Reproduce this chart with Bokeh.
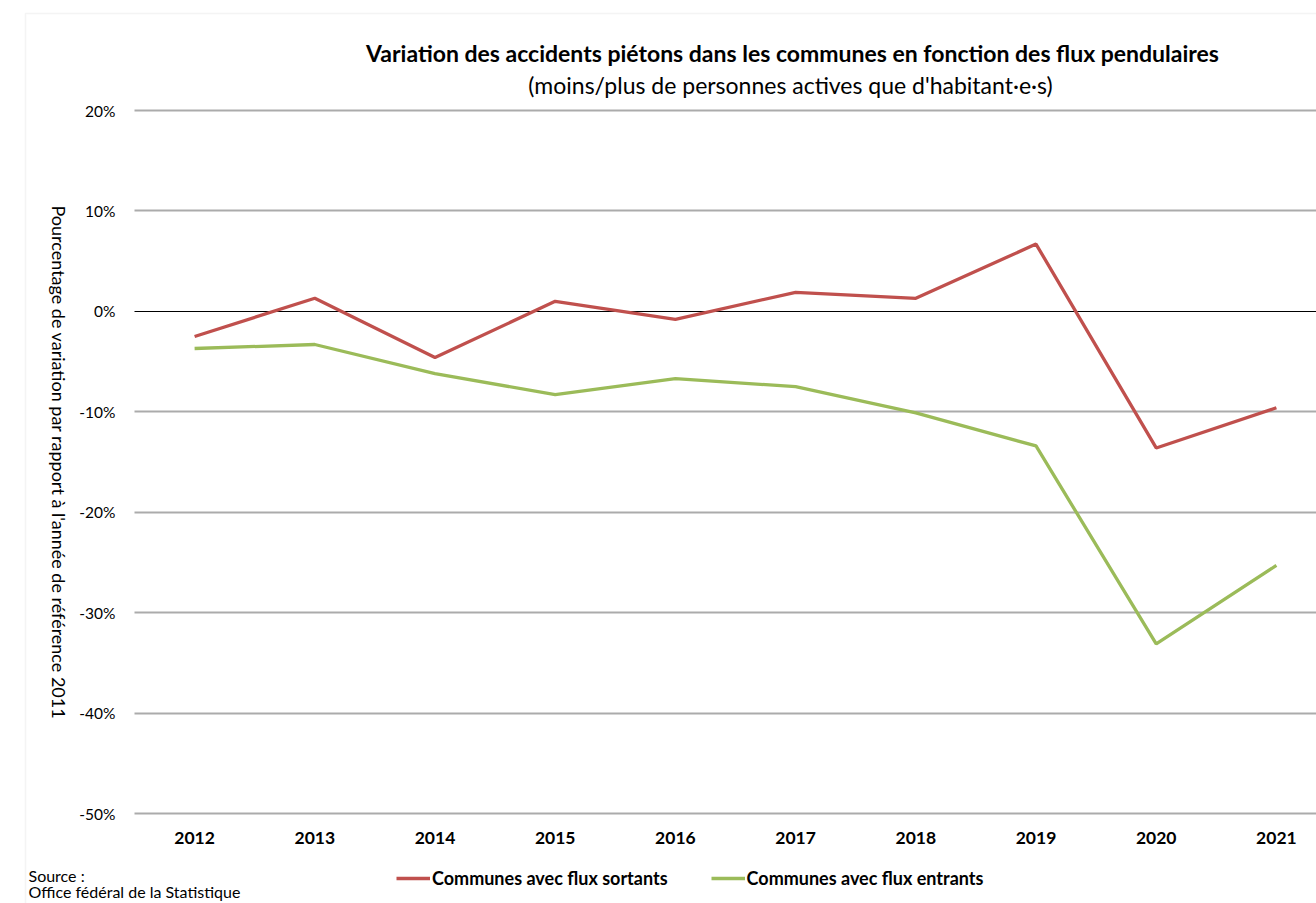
import math
from bokeh.plotting import figure
from bokeh.models import (Range1d, FixedTicker, NumeralTickFormatter, Label, Grid,
                          Legend, LegendItem, BoxAnnotation)
from bokeh.embed import file_html
from bokeh.resources import INLINE

years = ["2012", "2013", "2014", "2015", "2016", "2017", "2018", "2019", "2020", "2021"]
sortants = [-2.5, 1.3, -4.6, 1.0, -0.8, 1.9, 1.3, 6.7, -13.6, -9.6]
entrants = [-3.7, -3.3, -6.2, -8.3, -6.7, -7.5, -10.1, -13.4, -33.1, -25.3]
y_ticks = [-50, -40, -30, -20, -10, 0, 10, 20]

title_text = "Variation des accidents piétons dans les communes en fonction des flux pendulaires"
subtitle_text = "(moins/plus de personnes actives que d'habitant·e·s)"
ylabel_text = "Pourcentage de variation par rapport à l'année de référence 2011"
source_lines = ["Source :", "Office fédéral de la Statistique"]
name_sortants = "Communes avec flux sortants"
name_entrants = "Communes avec flux entrants"

FONT = "Lato"
RED = "#C0504D"
GREEN = "#9BBB59"

W, H = 1316, 903
# plot-area geometry (pixels): left edge, category step, top/bottom gridlines
PL, STEP, PT, PB = 134, 120.2, 110, 813
YMAX, YMIN = 0.2, -0.5
ppu = (PB - PT) / (YMAX - YMIN)

xs = [i + 0.5 for i in range(len(years))]
ys_s = [v / 100 for v in sortants]
ys_e = [v / 100 for v in entrants]

x_end = (W - PL) / STEP
p = figure(width=W, height=H, output_backend="svg", toolbar_location=None,
           x_range=Range1d(-PL / STEP, x_end),
           y_range=Range1d(YMAX - (H - PT) / ppu, YMAX + PT / ppu),
           min_border=0)
p.outline_line_color = None
p.background_fill_color = "white"
p.border_fill_color = "white"

# outer chart border
p.add_layout(BoxAnnotation(left=25, right=W + 20, top=H - 13, bottom=-20,
                           left_units="screen", right_units="screen",
                           top_units="screen", bottom_units="screen",
                           fill_alpha=0, line_color="#D9D9D9", line_width=1.5,
                           level="underlay"))

# axes fixed inside the frame
p.xaxis.fixed_location = YMIN
p.xaxis.ticker = FixedTicker(ticks=xs)
p.xaxis.major_label_overrides = {x: y for x, y in zip(xs, years)}
p.xaxis.axis_line_color = None
p.xaxis.major_tick_line_color = None
p.xaxis.major_tick_out = 0
p.xaxis.major_tick_in = 0
p.xaxis.minor_tick_line_color = None
p.xaxis.major_label_text_font = FONT
p.xaxis.major_label_text_font_style = "bold"
p.xaxis.major_label_text_font_size = "17.5px"
p.xaxis.major_label_text_color = "black"
p.xaxis.major_label_standoff = 18

p.yaxis.fixed_location = 0
p.yaxis.ticker = FixedTicker(ticks=[t / 100 for t in y_ticks])
p.yaxis.formatter = NumeralTickFormatter(format="0%")
p.yaxis.axis_line_color = None
p.yaxis.major_tick_line_color = None
p.yaxis.major_tick_out = 0
p.yaxis.major_tick_in = 0
p.yaxis.minor_tick_line_color = None
p.yaxis.major_label_text_font = FONT
p.yaxis.major_label_text_font_size = "15.5px"
p.yaxis.major_label_text_color = "black"
p.yaxis.major_label_standoff = 19

p.xgrid.grid_line_color = None
p.ygrid.ticker = FixedTicker(ticks=[t / 100 for t in y_ticks if t != 0])
p.ygrid.cross_bounds = (0, x_end)
p.ygrid.grid_line_color = "#ABABAB"
p.ygrid.grid_line_width = 2

zero = Grid(dimension=1, ticker=FixedTicker(ticks=[0]), cross_bounds=(0, x_end),
            grid_line_color="black", grid_line_width=1.2)
p.add_layout(zero)

r1 = p.line(xs, ys_s, line_color=RED, line_width=3.3)
r2 = p.line(xs, ys_e, line_color=GREEN, line_width=3.3)

legend = Legend(items=[LegendItem(label=name_sortants, renderers=[r1]),
                       LegendItem(label=name_entrants, renderers=[r2])],
                orientation="horizontal", location=(396, H - 889),
                glyph_width=34, glyph_height=22, label_height=22,
                label_standoff=2, spacing=43, padding=0, margin=0,
                border_line_color=None, background_fill_alpha=0,
                label_text_font=FONT, label_text_font_style="bold",
                label_text_font_size="18px", label_text_color="black")
p.add_layout(legend)

def lab(text, px, py, size, bold=False, align="center", angle=0.0, baseline="middle"):
    p.add_layout(Label(x=px, y=H - py, x_units="screen", y_units="screen",
                       text=text, text_font=FONT, text_font_size=size,
                       text_font_style="bold" if bold else "normal",
                       text_align=align, text_baseline=baseline,
                       text_color="black", angle=angle))

lab(title_text, 792, 52, "23px", bold=True)
lab(subtitle_text, 790, 84, "23px")
lab(ylabel_text, 58, 462, "18px", angle=-math.pi / 2)
lab(source_lines[0], 28, 875, "16px", align="left")
lab(source_lines[1], 28, 900, "16px", align="left", baseline="bottom")

open("out.html", "w").write(file_html(p, INLINE))
